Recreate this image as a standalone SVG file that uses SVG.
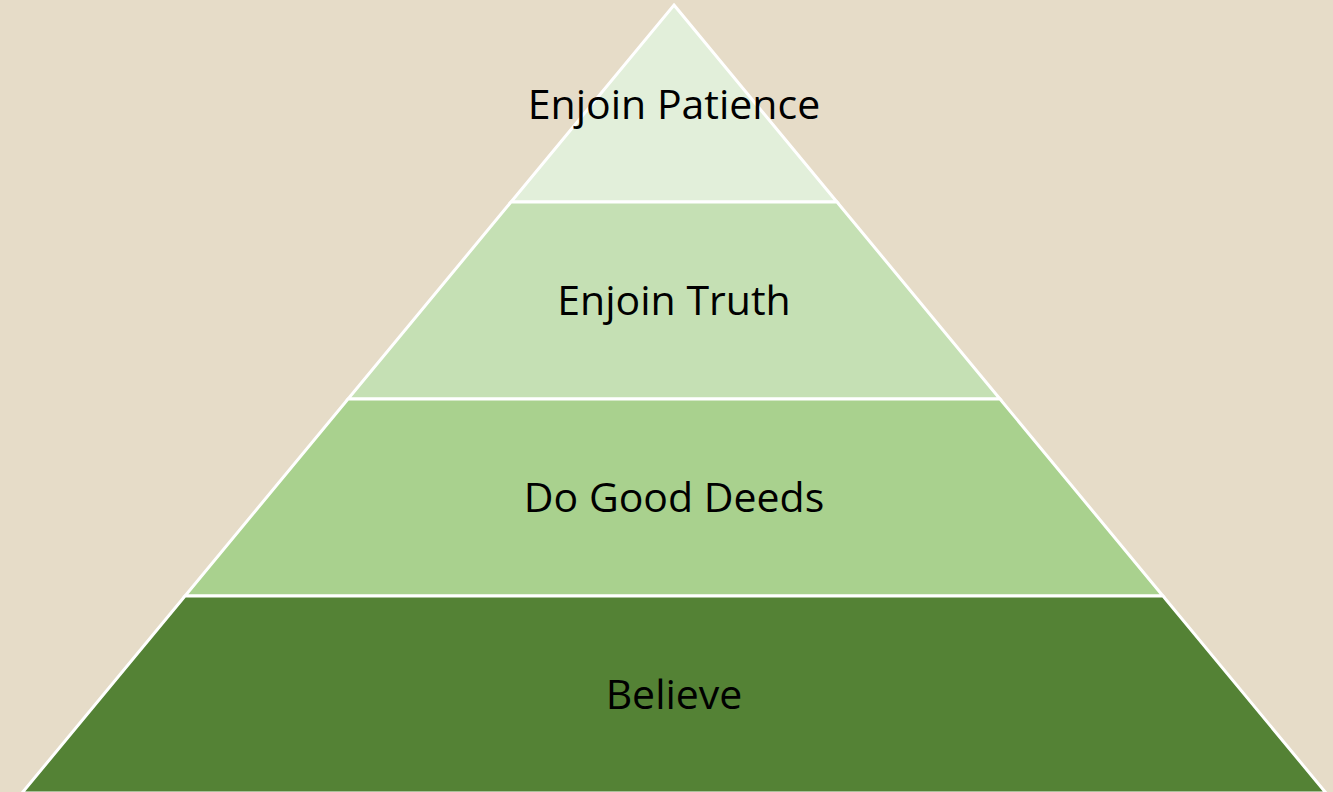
<svg xmlns="http://www.w3.org/2000/svg" width="1333" height="792" viewBox="0 0 1333 792">
<style>
.layer{stroke:#FFFFFF;stroke-width:3;stroke-linejoin:miter}
.lbl{font-family:"Open Sans","Liberation Sans",sans-serif;font-size:41px;fill:#000000;text-anchor:middle;dominant-baseline:central}
</style>
<rect x="0" y="0" width="1333" height="792" fill="#E6DCC8"/>
<g id="layer-patience">
<polygon class="layer" fill="#E2EFDA" points="674,5 837,202 511,202"/>
<text class="lbl" x="674" y="103">Enjoin Patience</text>
</g>
<g id="layer-truth">
<polygon class="layer" fill="#C5E0B4" points="511,202 837,202 1000,399 348,399"/>
<text class="lbl" x="674" y="299">Enjoin Truth</text>
</g>
<g id="layer-deeds">
<polygon class="layer" fill="#A9D18E" points="348,399 1000,399 1163,596 185,596"/>
<text class="lbl" x="674" y="496">Do Good Deeds</text>
</g>
<g id="layer-believe">
<polygon class="layer" fill="#548235" points="185,596 1163,596 1326,793 22,793"/>
<text class="lbl" x="674" y="693">Believe</text>
</g>
<g id="connectors"/>
</svg>
